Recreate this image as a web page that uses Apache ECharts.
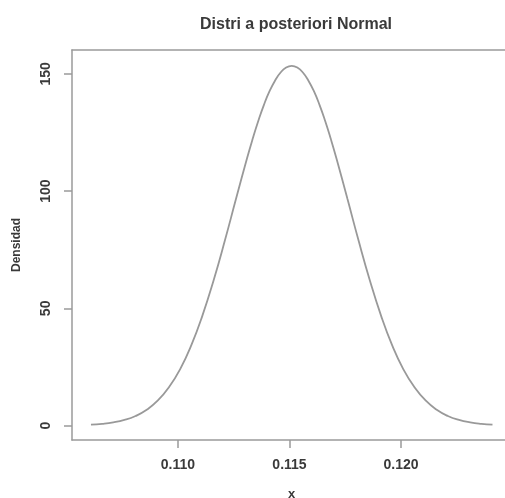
<!DOCTYPE html>
<html>
<head>
<meta charset="utf-8">
<script src="https://cdn.jsdelivr.net/npm/echarts@6/dist/echarts.min.js"></script>
<style>
  html, body { margin: 0; padding: 0; background: #fff; }
  #chart { width: 505px; height: 498px; }
</style>
</head>
<body>
<div id="chart"></div>
<script>
// Posterior normal density evaluated on a grid of x values
const xValues = [
  0.1061, 0.1066, 0.1071, 0.1076, 0.1081, 0.1086, 0.1091, 0.1096, 0.1101, 0.1106,
  0.1111, 0.1116, 0.1121, 0.1126, 0.1131, 0.11335, 0.1136, 0.11385, 0.1141, 0.11435,
  0.1146, 0.11485, 0.1151, 0.11535, 0.1156, 0.11585, 0.1161, 0.11635, 0.1166, 0.11685,
  0.1171, 0.1176, 0.1181, 0.1186, 0.1191, 0.1196, 0.1201, 0.1206, 0.1211, 0.1216,
  0.1221, 0.1226, 0.1231, 0.1236, 0.1241
];
const density = [
  0.38, 0.73, 1.35, 2.39, 4.09, 6.74, 10.7, 16.4, 24.1, 34.3,
  47.0, 62.0, 78.8, 96.6, 114.1, 122.3, 129.9, 136.7, 142.5, 147.1,
  150.6, 152.7, 153.4, 152.7, 150.6, 147.1, 142.5, 136.7, 129.9, 122.3,
  114.1, 96.6, 78.8, 62.0, 47.0, 34.3, 24.1, 16.4, 10.7, 6.74,
  4.09, 2.39, 1.35, 0.73, 0.38
];
const xTicks = [0.110, 0.115, 0.120];
const yTicks = [0, 50, 100, 150];

const titleText = 'Distri a posteriori Normal';
const xName = 'x';
const yName = 'Densidad';

const chart = echarts.init(document.getElementById('chart'));
const txt = '#3a3a3a';
const lineCol = '#9a9a9a';
const font = 'Liberation Sans, Arial, sans-serif';
const frame = { show: true, onZero: false, lineStyle: { color: lineCol, width: 1.5 } };
const xRange = { min: 0.10525, max: 0.12493 };

chart.setOption({
  animation: false,
  backgroundColor: '#fff',
  title: {
    text: titleText,
    left: 291, top: 12, textAlign: 'center',
    textStyle: { fontFamily: font, fontSize: 16, fontWeight: 'bold', color: txt }
  },
  grid: {
    left: 72, top: 50, right: -6, bottom: 58,
    containLabel: false,
    outerBoundsMode: 'none',
    show: false
  },
  xAxis: [{
    type: 'value',
    position: 'bottom',
    min: xRange.min, max: xRange.max,
    name: xName, nameLocation: 'middle', nameGap: 48,
    nameTextStyle: { fontFamily: font, fontSize: 13, fontWeight: 'bold', color: txt },
    axisLine: frame,
    splitLine: { show: false },
    axisTick: {
      show: true, inside: false, length: 8, customValues: xTicks,
      lineStyle: { color: lineCol, width: 1.5 }
    },
    axisLabel: {
      customValues: xTicks, margin: 18,
      formatter: v => v.toFixed(3),
      fontFamily: font, fontSize: 14, fontWeight: 'bold', color: txt
    }
  }, {
    // top edge of the plot frame
    type: 'value',
    position: 'top',
    min: xRange.min, max: xRange.max,
    axisLine: frame,
    axisTick: { show: false },
    axisLabel: { show: false },
    splitLine: { show: false }
  }],
  yAxis: {
    type: 'value',
    min: -6.16, max: 160.2,
    name: yName, nameLocation: 'middle', nameGap: 49,
    nameTextStyle: { fontFamily: font, fontSize: 12, fontWeight: 'bold', color: txt },
    axisLine: frame,
    splitLine: { show: false },
    axisTick: {
      show: true, inside: false, length: 8, customValues: yTicks,
      lineStyle: { color: lineCol, width: 1.5 }
    },
    axisLabel: {
      customValues: yTicks, margin: 19, rotate: 90,
      fontFamily: font, fontSize: 14, fontWeight: 'bold', color: txt
    }
  },
  series: [{
    type: 'line',
    xAxisIndex: 0,
    data: xValues.map((x, i) => [x, density[i]]),
    smooth: true,
    showSymbol: false,
    lineStyle: { color: '#999', width: 1.8 }
  }]
});
</script>
</body>
</html>
